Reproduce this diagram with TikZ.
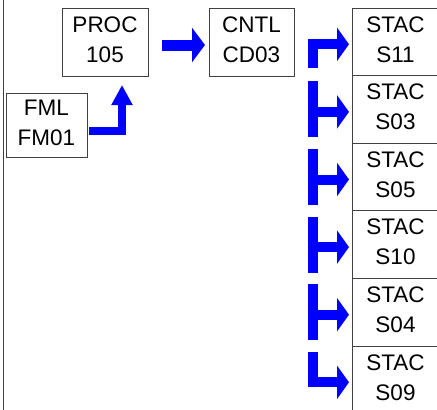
\documentclass[tikz,border=0pt]{standalone}
\usepackage{fontspec}
\setmainfont{Liberation Sans}
\usetikzlibrary{arrows.meta,positioning}

\begin{document}
\begin{tikzpicture}[x=1pt,y=-1pt,
	box/.style={
		draw=black!75,
		line width=0.8pt,
		align=center,
		inner sep=0pt,
		outer sep=0pt,
		font=\fontsize{22.5}{30}\selectfont,
		execute at end node={\rule[-5pt]{0pt}{5pt}}
	},
	stac/.style={
		box,
		minimum width=87pt,
		minimum height=67.6pt
	},
	fat/.style={
		draw=blue,
		line width=10pt,
		line join=miter,
		-{Triangle[width=33pt,length=12pt]}
	},
	bar/.style={
		draw=blue,
		line width=10pt
	}
	]
	\useasboundingbox (0,0) rectangle (437,410);
	
	\draw[black!75, line width=0.8pt] (3,0) -- (3,410);
	
	\node[box, minimum width=86pt, minimum height=68pt] at (105,42) 
	(proc) {PROC\\105};
	\node[box, minimum width=85pt, minimum height=68pt] at (251.5,42) 
	(cntl) {CNTL\\CD03};
	\node[box, minimum width=81pt, minimum height=64pt] at (46.5,125) 
	(fml) {FML\\FM01};
	
	\node[stac] at (395.5,41.8) (s11) {STAC\\S11};
	\node[stac, below=0pt of s11] (s03) {STAC\\S03};
	\node[stac, below=0pt of s03] (s05) {STAC\\S05};
	\node[stac, below=0pt of s05] (s10) {STAC\\S10};
	\node[stac, below=0pt of s10] (s04) {STAC\\S04};
	\node[stac, below=0pt of s04] (s09) {STAC\\S09};
	
	\draw[fat, line width=8pt, -{Triangle[width=20pt,length=20pt]}, shorten <=2pt, shorten >=9pt] ([yshift=-6pt]fml.east) -| ([xshift=17pt]proc.south);
	\draw[fat, line width=11pt, -{Triangle[width=34pt,length=13pt]}, shorten <=14pt, shorten >=4pt] ([yshift=-3pt]proc.east) -- ([yshift=-3pt]cntl.west);
	
	\draw[fat, shorten >=3pt] ([xshift=-39pt,yshift=-26pt]s11.west) |- ([yshift=-2.5pt]s11.west);
	
	\draw[bar] ([xshift=-39pt,yshift=28pt]s03.west) -- ([xshift=-39pt,yshift=-28pt]s03.west);
	\draw[fat, shorten >=3pt] ([xshift=-44pt,yshift=-2.5pt]s03.west) -- ([yshift=-2.5pt]s03.west);
	\draw[bar] ([xshift=-39pt,yshift=28pt]s05.west) -- ([xshift=-39pt,yshift=-28pt]s05.west);
	\draw[fat, shorten >=3pt] ([xshift=-44pt,yshift=-2.5pt]s05.west) -- ([yshift=-2.5pt]s05.west);
	\draw[bar] ([xshift=-39pt,yshift=28pt]s10.west) -- ([xshift=-39pt,yshift=-28pt]s10.west);
	\draw[fat, shorten >=3pt] ([xshift=-44pt,yshift=-2.5pt]s10.west) -- ([yshift=-2.5pt]s10.west);
	\draw[bar] ([xshift=-39pt,yshift=28pt]s04.west) -- ([xshift=-39pt,yshift=-28pt]s04.west);
	\draw[fat, shorten >=3pt] ([xshift=-44pt,yshift=-2.5pt]s04.west) -- ([yshift=-2.5pt]s04.west);
	
	\draw[fat, shorten >=3pt] ([xshift=-39pt,yshift=28pt]s09.west) |- ([yshift=-2.5pt]s09.west);
	
\end{tikzpicture}
\end{document}
